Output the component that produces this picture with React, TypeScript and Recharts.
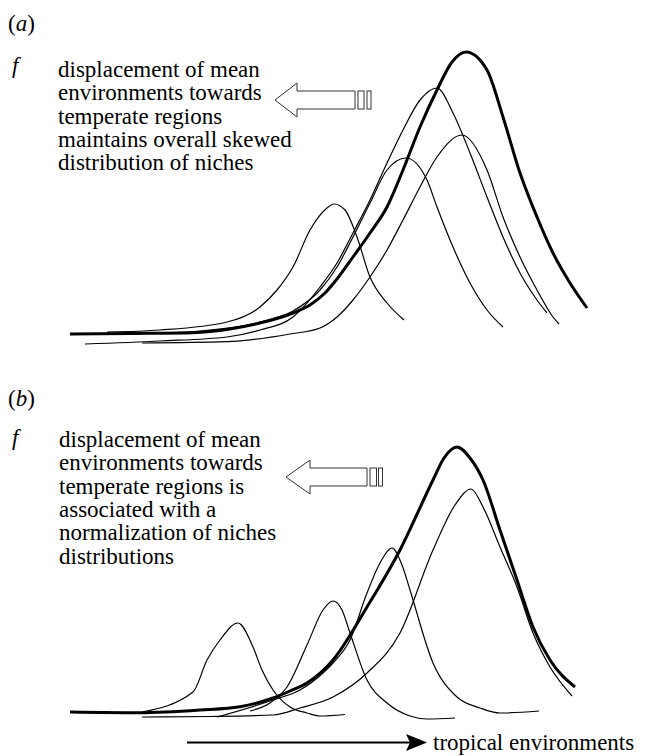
import React from "react";
import { LineChart, Line, XAxis, YAxis } from "recharts";

// x = position along the environmental gradient, f = frequency of niches
type Pt = { x: number; f: number };
const pts = (arr: number[][]): Pt[] => arr.map(([x, f]) => ({ x, f }));

// panel (a): skewed overall distribution
const overallA = pts([
  [24, 11], [84, 11.5], [147, 12.3], [184, 16], [214, 22], [247, 32], [264, 40], [279, 52],
  [291, 66], [307, 88], [324, 112], [341, 138], [357, 175], [374, 218], [391, 255], [406, 283],
  [420, 293], [441, 275], [457, 228], [474, 172], [491, 128], [507, 92], [524, 62], [541, 37],
]);
const nicheA1 = pts([
  [61, 13], [114, 15], [181, 23], [214, 38], [231, 55], [247, 78], [264, 115], [281, 137],
  [288, 141], [299, 135], [311, 108], [324, 68], [341, 42], [358, 25],
]);
const nicheA2 = pts([
  [84, 11], [154, 14], [214, 23], [247, 34], [274, 55], [291, 78], [307, 108], [324, 142],
  [341, 175], [360, 187], [381, 165], [391, 138], [407, 98], [424, 62], [441, 35], [457, 18],
]);
const nicheA3 = pts([
  [39, 1], [114, 4], [181, 8], [214, 15], [247, 28], [274, 58], [291, 82], [307, 112],
  [324, 145], [341, 182], [357, 215], [374, 245], [391, 257], [407, 232], [424, 192], [441, 148],
  [457, 108], [474, 72], [491, 45], [501, 32],
]);
const nicheA4 = pts([
  [96, 2], [181, 3.3], [244, 11], [274, 17], [291, 28], [307, 45], [324, 68], [341, 95],
  [357, 125], [374, 158], [391, 188], [416, 210], [441, 175], [457, 128], [474, 88], [491, 55],
  [507, 28], [513, 21],
]);

// panel (b): normalized niches
const overallB = pts([
  [24, 12], [94, 11.3], [154, 14], [194, 17.3], [227, 26], [244, 33], [261, 41], [287, 64],
  [321, 117], [354, 174], [387, 244], [398, 266], [411, 277], [424, 266], [437, 244], [454, 194],
  [471, 144], [487, 97], [504, 64], [529, 37],
]);
const nicheB1 = pts([
  [96, 12], [147, 32], [161, 64], [174, 84], [192, 101], [207, 77], [216, 54], [227, 34],
  [244, 17], [261, 11], [274, 8], [299, 9.5],
]);
const nicheB2 = pts([
  [204, 13], [224, 21], [241, 37], [261, 79], [277, 114], [287, 123], [296, 114], [304, 91],
  [321, 44], [341, 21], [364, 8], [381, 5], [409, 6],
]);
const nicheB3 = pts([
  [171, 7], [227, 24], [254, 34], [277, 51], [287, 61], [304, 84], [321, 131], [334, 161],
  [346, 176], [356, 159], [364, 134], [387, 61], [411, 27], [434, 16], [454, 11], [493, 13],
]);
const nicheB4 = pts([
  [96, 7], [164, 7.5], [227, 9], [254, 16], [287, 27], [321, 51], [354, 91], [387, 174],
  [409, 219], [425, 235], [437, 217], [454, 177], [471, 137], [487, 91], [504, 57], [526, 28],
]);

const notesA = [
  "displacement of mean",
  "environments towards",
  "temperate regions",
  "maintains overall skewed",
  "distribution of niches",
];
const notesB = [
  "displacement of mean",
  "environments towards",
  "temperate regions is",
  "associated with a",
  "normalization of niches",
  "distributions",
];

const txt: React.CSSProperties = {
  fontFamily: "'Liberation Serif', 'Times New Roman', Times, serif",
  fontSize: 23,
  fill: "#000",
};

function Panel({ overall, niches, top }: { overall: Pt[]; niches: Pt[][]; top: number }) {
  return (
    <div style={{ position: "absolute", left: 0, top }}>
      <LineChart width={645} height={360} margin={{ top: 45, right: 46, bottom: 15, left: 46 }}>
        <XAxis type="number" dataKey="x" domain={[0, 553]} height={0} tick={false} tickLine={false}
          axisLine={{ stroke: "#333", strokeWidth: 1.5 }} allowDataOverflow />
        <YAxis type="number" dataKey="f" domain={[0, 300]} width={0} tick={false} tickLine={false}
          axisLine={{ stroke: "#333", strokeWidth: 1.5 }} allowDataOverflow />
        {niches.map((d, i) => (
          <Line key={i} data={d} dataKey="f" type="monotone" stroke="#000" strokeWidth={1.2}
            dot={false} isAnimationActive={false} />
        ))}
        <Line data={overall} dataKey="f" type="monotone" stroke="#000" strokeWidth={3}
          dot={false} isAnimationActive={false} />
      </LineChart>
    </div>
  );
}

function HollowArrow({ tip, cy, back, shaftEnd, bars }: { tip: number; cy: number; back: number; shaftEnd: number; bars: number[][] }) {
  const h = 17, s = 9;
  return (
    <g fill="#fff" stroke="#333" strokeWidth={1}>
      <polygon points={`${tip},${cy} ${back},${cy - h} ${back},${cy - s} ${shaftEnd},${cy - s} ${shaftEnd},${cy + s} ${back},${cy + s} ${back},${cy + h}`} />
      {bars.map(([x, w], i) => (
        <rect key={i} x={x} y={cy - s} width={w} height={2 * s} />
      ))}
    </g>
  );
}

export default function App() {
  return (
    <div style={{ position: "absolute", left: 0, top: 0, width: 645, height: 756, background: "#fff", overflow: "hidden" }}>
      <Panel overall={overallA} niches={[nicheA1, nicheA2, nicheA3, nicheA4]} top={0} />
      <Panel overall={overallB} niches={[nicheB1, nicheB2, nicheB3, nicheB4]} top={379} />
      <svg width={645} height={756} style={{ position: "absolute", left: 0, top: 0, pointerEvents: "none" }}>
        <text x={8} y={31} style={txt}>(<tspan fontStyle="italic">a</tspan>)</text>
        <text x={12} y={73} style={{ ...txt, fontStyle: "italic" }}>f</text>
        {notesA.map((t, i) => (
          <text key={i} x={58} y={77 + i * 23.3} style={txt}>{t}</text>
        ))}
        <HollowArrow tip={275} cy={100} back={297} shaftEnd={355} bars={[[358, 6], [367, 4]]} />

        <text x={8} y={406} style={txt}>(<tspan fontStyle="italic">b</tspan>)</text>
        <text x={12} y={445} style={{ ...txt, fontStyle: "italic" }}>f</text>
        {notesB.map((t, i) => (
          <text key={i} x={59} y={447 + i * 23.3} style={txt}>{t}</text>
        ))}
        <HollowArrow tip={286} cy={477} back={310} shaftEnd={367} bars={[[370, 6.5], [378.5, 4]]} />

        <line x1={187} y1={742.5} x2={412} y2={742.5} stroke="#000" strokeWidth={2} />
        <polygon points="427,742.5 406,734 410,742.5 406,751" fill="#000" />
        <text x={433} y={750} style={txt}>tropical environments</text>
      </svg>
    </div>
  );
}
